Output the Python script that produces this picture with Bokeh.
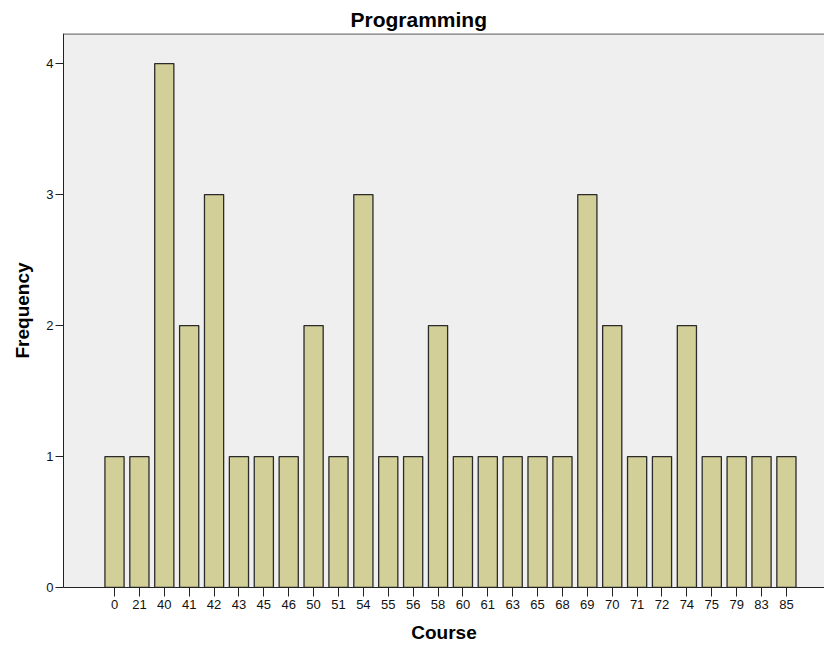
from bokeh.plotting import figure
from bokeh.models import ColumnDataSource, Range1d, FixedTicker, Span
from bokeh.embed import file_html
from bokeh.resources import INLINE

courses = ["0", "21", "40", "41", "42", "43", "45", "46", "50", "51", "54", "55", "56", "58",
           "60", "61", "63", "65", "68", "69", "70", "71", "72", "74", "75", "79", "83", "85"]
frequency = [1, 1, 4, 2, 3, 1, 1, 1, 2, 1, 3, 1, 1, 2,
             1, 1, 1, 1, 1, 3, 2, 1, 1, 2, 1, 1, 1, 1]
y_ticks = [0, 1, 2, 3, 4]

idx = list(range(len(courses)))
src = ColumnDataSource(dict(x=idx, top=frequency))

FONT = "Liberation Sans"

p = figure(width=824, height=648, output_backend="svg", toolbar_location=None,
           x_range=Range1d(-2.05, 28.53), y_range=Range1d(0, 4.23),
           min_border_left=63, min_border_right=0, min_border_top=33, min_border_bottom=61)

p.background_fill_color = "#efefef"
p.border_fill_color = "white"
p.outline_line_color = None
p.grid.visible = False

p.vbar(x="x", top="top", width=0.77, bottom=0, source=src,
       fill_color="#d3cf98", line_color="#2b2b2b", line_width=1.3)

p.xaxis.ticker = FixedTicker(ticks=idx)
p.xaxis.major_label_overrides = {i: c for i, c in enumerate(courses)}
p.xaxis.major_label_text_font = FONT
p.xaxis.major_label_text_font_size = "13px"
p.xaxis.major_label_text_color = "#111111"
p.xaxis.major_label_standoff = 3
p.xaxis.major_tick_in = 0
p.xaxis.major_tick_out = 9
p.xaxis.minor_tick_line_color = None
p.xaxis.axis_line_color = "#222222"
p.xaxis.major_tick_line_color = "#222222"
p.xaxis.axis_label = "Course"
p.xaxis.axis_label_text_font = FONT
p.xaxis.axis_label_text_font_style = "bold"
p.xaxis.axis_label_text_font_size = "19px"
p.xaxis.axis_label_text_color = "#000000"
p.xaxis.axis_label_standoff = 10

p.yaxis.ticker = FixedTicker(ticks=y_ticks)
p.yaxis.major_label_text_font = FONT
p.yaxis.major_label_text_font_size = "13px"
p.yaxis.major_label_text_color = "#111111"
p.yaxis.major_label_standoff = 2
p.yaxis.major_tick_in = 0
p.yaxis.major_tick_out = 8
p.yaxis.minor_tick_line_color = None
p.yaxis.axis_line_color = "#222222"
p.yaxis.major_tick_line_color = "#222222"
p.yaxis.axis_label = "Frequency"
p.yaxis.axis_label_text_font = FONT
p.yaxis.axis_label_text_font_style = "bold"
p.yaxis.axis_label_text_font_size = "19px"
p.yaxis.axis_label_text_color = "#000000"
p.yaxis.axis_label_standoff = 10

p.title.text = "Programming"
p.title.text_font = FONT
p.title.text_font_size = "21px"
p.title.text_font_style = "bold"
p.title.text_color = "#000000"
p.title.align = "left"
p.title.offset = 287
p.title.standoff = 5

p.add_layout(Span(location=4.23, dimension="width", line_color="#7a7a7a", line_width=2.5))

open("out.html", "w").write(file_html(p, INLINE))
